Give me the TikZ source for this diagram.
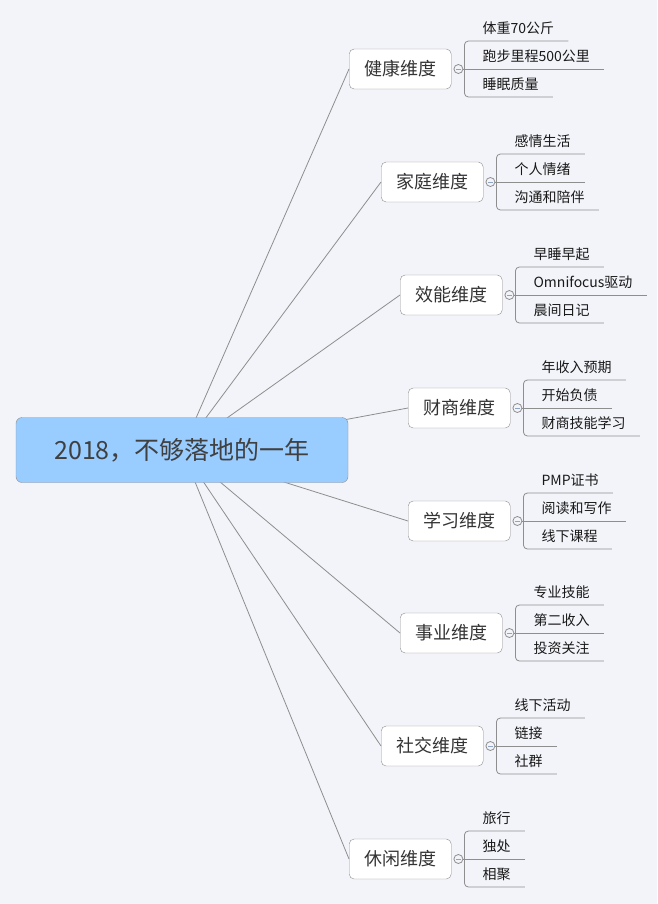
\documentclass[tikz,border=0pt]{standalone}
\usepackage{fontspec}
\setmainfont{Noto Sans CJK SC}
\usetikzlibrary{positioning,calc}
\definecolor{bg}{HTML}{F3F4F9}
\definecolor{rootfill}{HTML}{99CCFF}
\definecolor{edge}{HTML}{8E8E8E}
\definecolor{minusc}{HTML}{8FA3C4}
\tikzset{
  topic/.style={draw=edge,fill=rootfill,rounded corners=6pt,minimum width=332pt,minimum height=65pt,
    font=\fontsize{25}{30}\selectfont,text=black!75},
  dimbox/.style={draw=edge,fill=white,rounded corners=5pt,minimum width=102pt,minimum height=40pt,
    font=\fontsize{18}{22}\selectfont,text=black!80},
  leaf/.style={inner sep=0pt,font=\fontsize{14}{17}\selectfont,text=black!90},
  link/.style={draw=edge,line width=0.8pt},
  fold/.style={draw=edge,fill=bg,line width=0.8pt},
  minus/.style={draw=minusc,line width=0.8pt}
}
% one dimension: name, left x, centre y, label, three leaves
\newcommand*{\branch}[7]{%
  \node[dimbox,anchor=west] (#1) at (#2,#3) {#4};
  \draw[link] (o) -- (#1.west);
  \coordinate (#1-v) at ($(#1.east)+(13,0)$);
  \node[leaf,anchor=base west] (#1-a) at ($(#1-v)+(18,-35.5)$) {#5};
  \node[leaf,anchor=base west] (#1-b) at ($(#1-v)+(18,-7.5)$) {#6};
  \node[leaf,anchor=base west] (#1-c) at ($(#1-v)+(18,20.5)$) {#7};
  \draw[link,rounded corners=4pt] ($(#1-a.base east)+(14,7.5)$) -| ($(#1-v)+(0,28)$) -- ($(#1-c.base east)+(14,7.5)$);
  \draw[link] ($(#1.east)+(11.5,0)$) -- ($(#1-b.base east)+(14,7.5)$);
  \draw[fold] ($(#1.east)+(7,0)$) circle (4.5pt);
  \draw[minus] ($(#1.east)+(4.8,0)$) -- ($(#1.east)+(9.2,0)$);
}

\begin{document}
\begin{tikzpicture}[x=1pt,y=-1pt]
\path[use as bounding box,fill=bg] (0,0) rectangle (657,904);
\coordinate (o) at (182,450);

% Dimensions
\branch{jk}{349}{69}{健康维度}{体重70公斤}{跑步里程500公里}{睡眠质量}
\branch{jt}{381}{182}{家庭维度}{感情生活}{个人情绪}{沟通和陪伴}
\branch{xn}{400}{295}{效能维度}{早睡早起}{Omnifocus驱动}{晨间日记}
\branch{cs}{408}{408}{财商维度}{年收入预期}{开始负债}{财商技能学习}
\branch{xx}{408}{521}{学习维度}{PMP证书}{阅读和写作}{线下课程}
\branch{sy}{400}{633}{事业维度}{专业技能}{第二收入}{投资关注}
\branch{sj}{381}{746}{社交维度}{线下活动}{链接}{社群}
\branch{xl}{349}{859}{休闲维度}{旅行}{独处}{相聚}

% Central topic on top of the links
\node[topic] (root) at (o) {2018，不够落地的一年};
\end{tikzpicture}
\end{document}
